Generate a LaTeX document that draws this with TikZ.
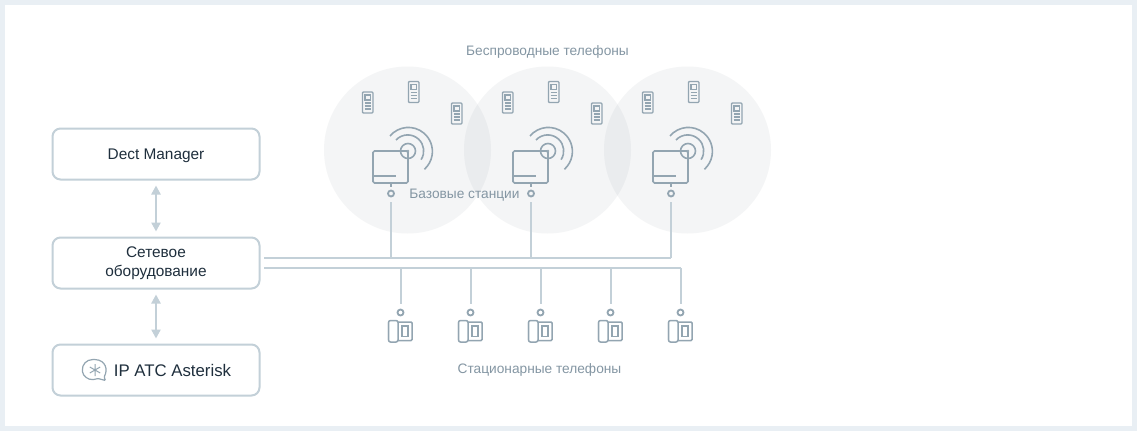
\documentclass[tikz,border=0pt]{standalone}
\usepackage{fontspec}
\setmainfont{Liberation Sans}
\usetikzlibrary{arrows.meta}
\definecolor{FRAME}{HTML}{E9EFF4}
\definecolor{LINK}{HTML}{C3D0D8}
\definecolor{ICON}{HTML}{93A5B1}
\definecolor{CAPTION}{HTML}{8496A3}
\definecolor{DARK}{HTML}{1F2F3D}
\definecolor{ZONE}{HTML}{5F6F7F}
\tikzset{
	devicebox/.style={draw=LINK, line width=2pt, fill=white, rounded corners=8pt, minimum width=207pt, minimum height=51pt, inner sep=0pt, text=DARK, align=center, font=\fontsize{15.4}{19}\selectfont},
	caption/.style={text=CAPTION, inner sep=0pt, font=\fontsize{13.7}{16}\selectfont},
	zone/.style={circle, fill=ZONE, fill opacity=.065, minimum size=167pt, inner sep=0pt},
	wire/.style={draw=LINK, line width=2pt},
	twoway/.style={draw=LINK, line width=2.5pt, xshift=.7pt, shorten >=5pt, shorten <=5pt, {Triangle[width=9pt,length=9pt]}-{Triangle[width=9pt,length=9pt]}},
	joint/.style={circle, draw=ICON, line width=1.8pt, minimum size=6pt, inner sep=0pt},
	handset/.pic={
		\draw[draw=ICON, line width=1.3pt, rounded corners=1pt] (-5.3,-10.5) rectangle (5.3,10.5);
		\draw[draw=ICON, line width=1.2pt] (-2.8,-7.5) rectangle (2.8,-2.5);
		\draw[draw=ICON, line width=1.1pt] (-3,0.5) -- (3,0.5) (-3,3.5) -- (3,3.5) (-3,6.5) -- (3,6.5);
	},
	basestation/.pic={
		\draw[draw=ICON, line width=1.6pt, rounded corners=1.5pt] (-35,0) rectangle (0,32);
		\draw[draw=ICON, line width=1.6pt] (-35,25) -- (-12,25) (-17,32) -- (-17,36);
		\draw[draw=ICON, line width=1.6pt] (0,0) circle [radius=7.5];
		\fill[ICON] (0,0) circle [radius=1.3];
		\draw[draw=ICON, line width=1.6pt] (-12,-11) arc [start angle=-137, end angle=33, radius=16];
		\draw[draw=ICON, line width=1.6pt] (-18,-15) arc [start angle=-140, end angle=48, radius=24];
	},
	deskphone/.pic={
		\draw[draw=ICON, line width=1.5pt, rounded corners=1pt] (0,1.5) rectangle (23.5,20);
		\draw[draw=ICON, fill=white, line width=1.5pt, rounded corners=2pt] (0,0) rectangle (9.5,21.5);
		\draw[draw=ICON, line width=1.5pt] (13.5,5.5) rectangle (19.5,16);
	}
}
\begin{document}
\begin{tikzpicture}[x=1pt, y=-1pt]
	\useasboundingbox (0,0) rectangle (1137,431);
	\fill[FRAME] (0,0) rectangle (1137,431);
	\fill[white] (5,5) rectangle (1132,426);

	% coverage
	\node [zone] (zone1) at (407.5,150) {};
	\node [zone] (zone2) at (547.5,150) {};
	\node [zone] (zone3) at (687.5,150) {};

	% wireless phones
	\pic at (367.7,102.5) {handset};
	\pic at (413.7,92) {handset};
	\pic at (456.7,113.5) {handset};
	\pic at (507.7,102.5) {handset};
	\pic at (553.7,92) {handset};
	\pic at (596.7,113.5) {handset};
	\pic at (647.7,102.5) {handset};
	\pic at (693.7,92) {handset};
	\pic at (736.7,113.5) {handset};

	% base stations
	\pic at (408,151) {basestation};
	\pic at (548,151) {basestation};
	\pic at (688,151) {basestation};

	\node [joint] (base1) at (391,193.5) {};
	\node [joint] (base2) at (531,193.5) {};
	\node [joint] (base3) at (671,193.5) {};

	% left column
	\node [devicebox, text depth=0pt] (dect) at (156,154) {Dect Manager};
	\node [devicebox] (net) at (156,263) {Сетевое\\оборудование};
	\node [devicebox] (pbx) at (156,370) {};
	\node [text=DARK, inner sep=0pt, font=\fontsize{16.8}{20}\selectfont] (pbxname) at (172.5,370) {IP АТС Asterisk};

	\draw [draw=ICON, line width=1.2pt, rounded corners=1pt] (104,377) .. controls (108,370) and (106,360) .. (94,359.5) .. controls (86,359.5) and (82,365) .. (82.5,371) .. controls (83,376) and (88,380) .. (94,379.5) -- (98,378.5) -- (105.5,380.5) -- cycle;
	\draw [draw=ICON, line width=1pt] (95,364) -- (95,376) (89.8,367) -- (100.2,373) (89.8,373) -- (100.2,367);

	\draw [twoway] (dect) -- (net);
	\draw [twoway] (net) -- (pbx);

	% buses
	\coordinate (busA) at (264,258);
	\coordinate (busB) at (264,268);
	\draw [wire] (busA) -- (busA -| base3);
	\draw [wire] (busB) -- (681,268);

	\draw [wire, shorten >=4.5pt] (busA -| base1) -- (base1);
	\draw [wire, shorten >=4.5pt] (busA -| base2) -- (base2);
	\draw [wire, shorten >=4.5pt] (busA -| base3) -- (base3);

	\node [joint] (desk1) at (400.5,312.5) {};
	\node [joint] (desk2) at (470.5,312.5) {};
	\node [joint] (desk3) at (540.5,312.5) {};
	\node [joint] (desk4) at (610.5,312.5) {};
	\node [joint] (desk5) at (680.5,312.5) {};

	\draw [wire, shorten >=4.5pt] (busB -| desk1) -- (desk1);
	\draw [wire, shorten >=4.5pt] (busB -| desk2) -- (desk2);
	\draw [wire, shorten >=4.5pt] (busB -| desk3) -- (desk3);
	\draw [wire, shorten >=4.5pt] (busB -| desk4) -- (desk4);
	\draw [wire, shorten >=4.5pt] (busB -| desk5) -- (desk5);

	% desk phones
	\pic at (388.5,320.5) {deskphone};
	\pic at (458.5,320.5) {deskphone};
	\pic at (528.5,320.5) {deskphone};
	\pic at (598.5,320.5) {deskphone};
	\pic at (668.5,320.5) {deskphone};

	% captions
	\node [caption] (wireless) at (547.5,52) {Беспроводные телефоны};
	\node [caption] (stations) at (464.5,195) {Базовые станции};
	\node [caption] (desktop) at (539.5,370) {Стационарные телефоны};
\end{tikzpicture}
\end{document}
